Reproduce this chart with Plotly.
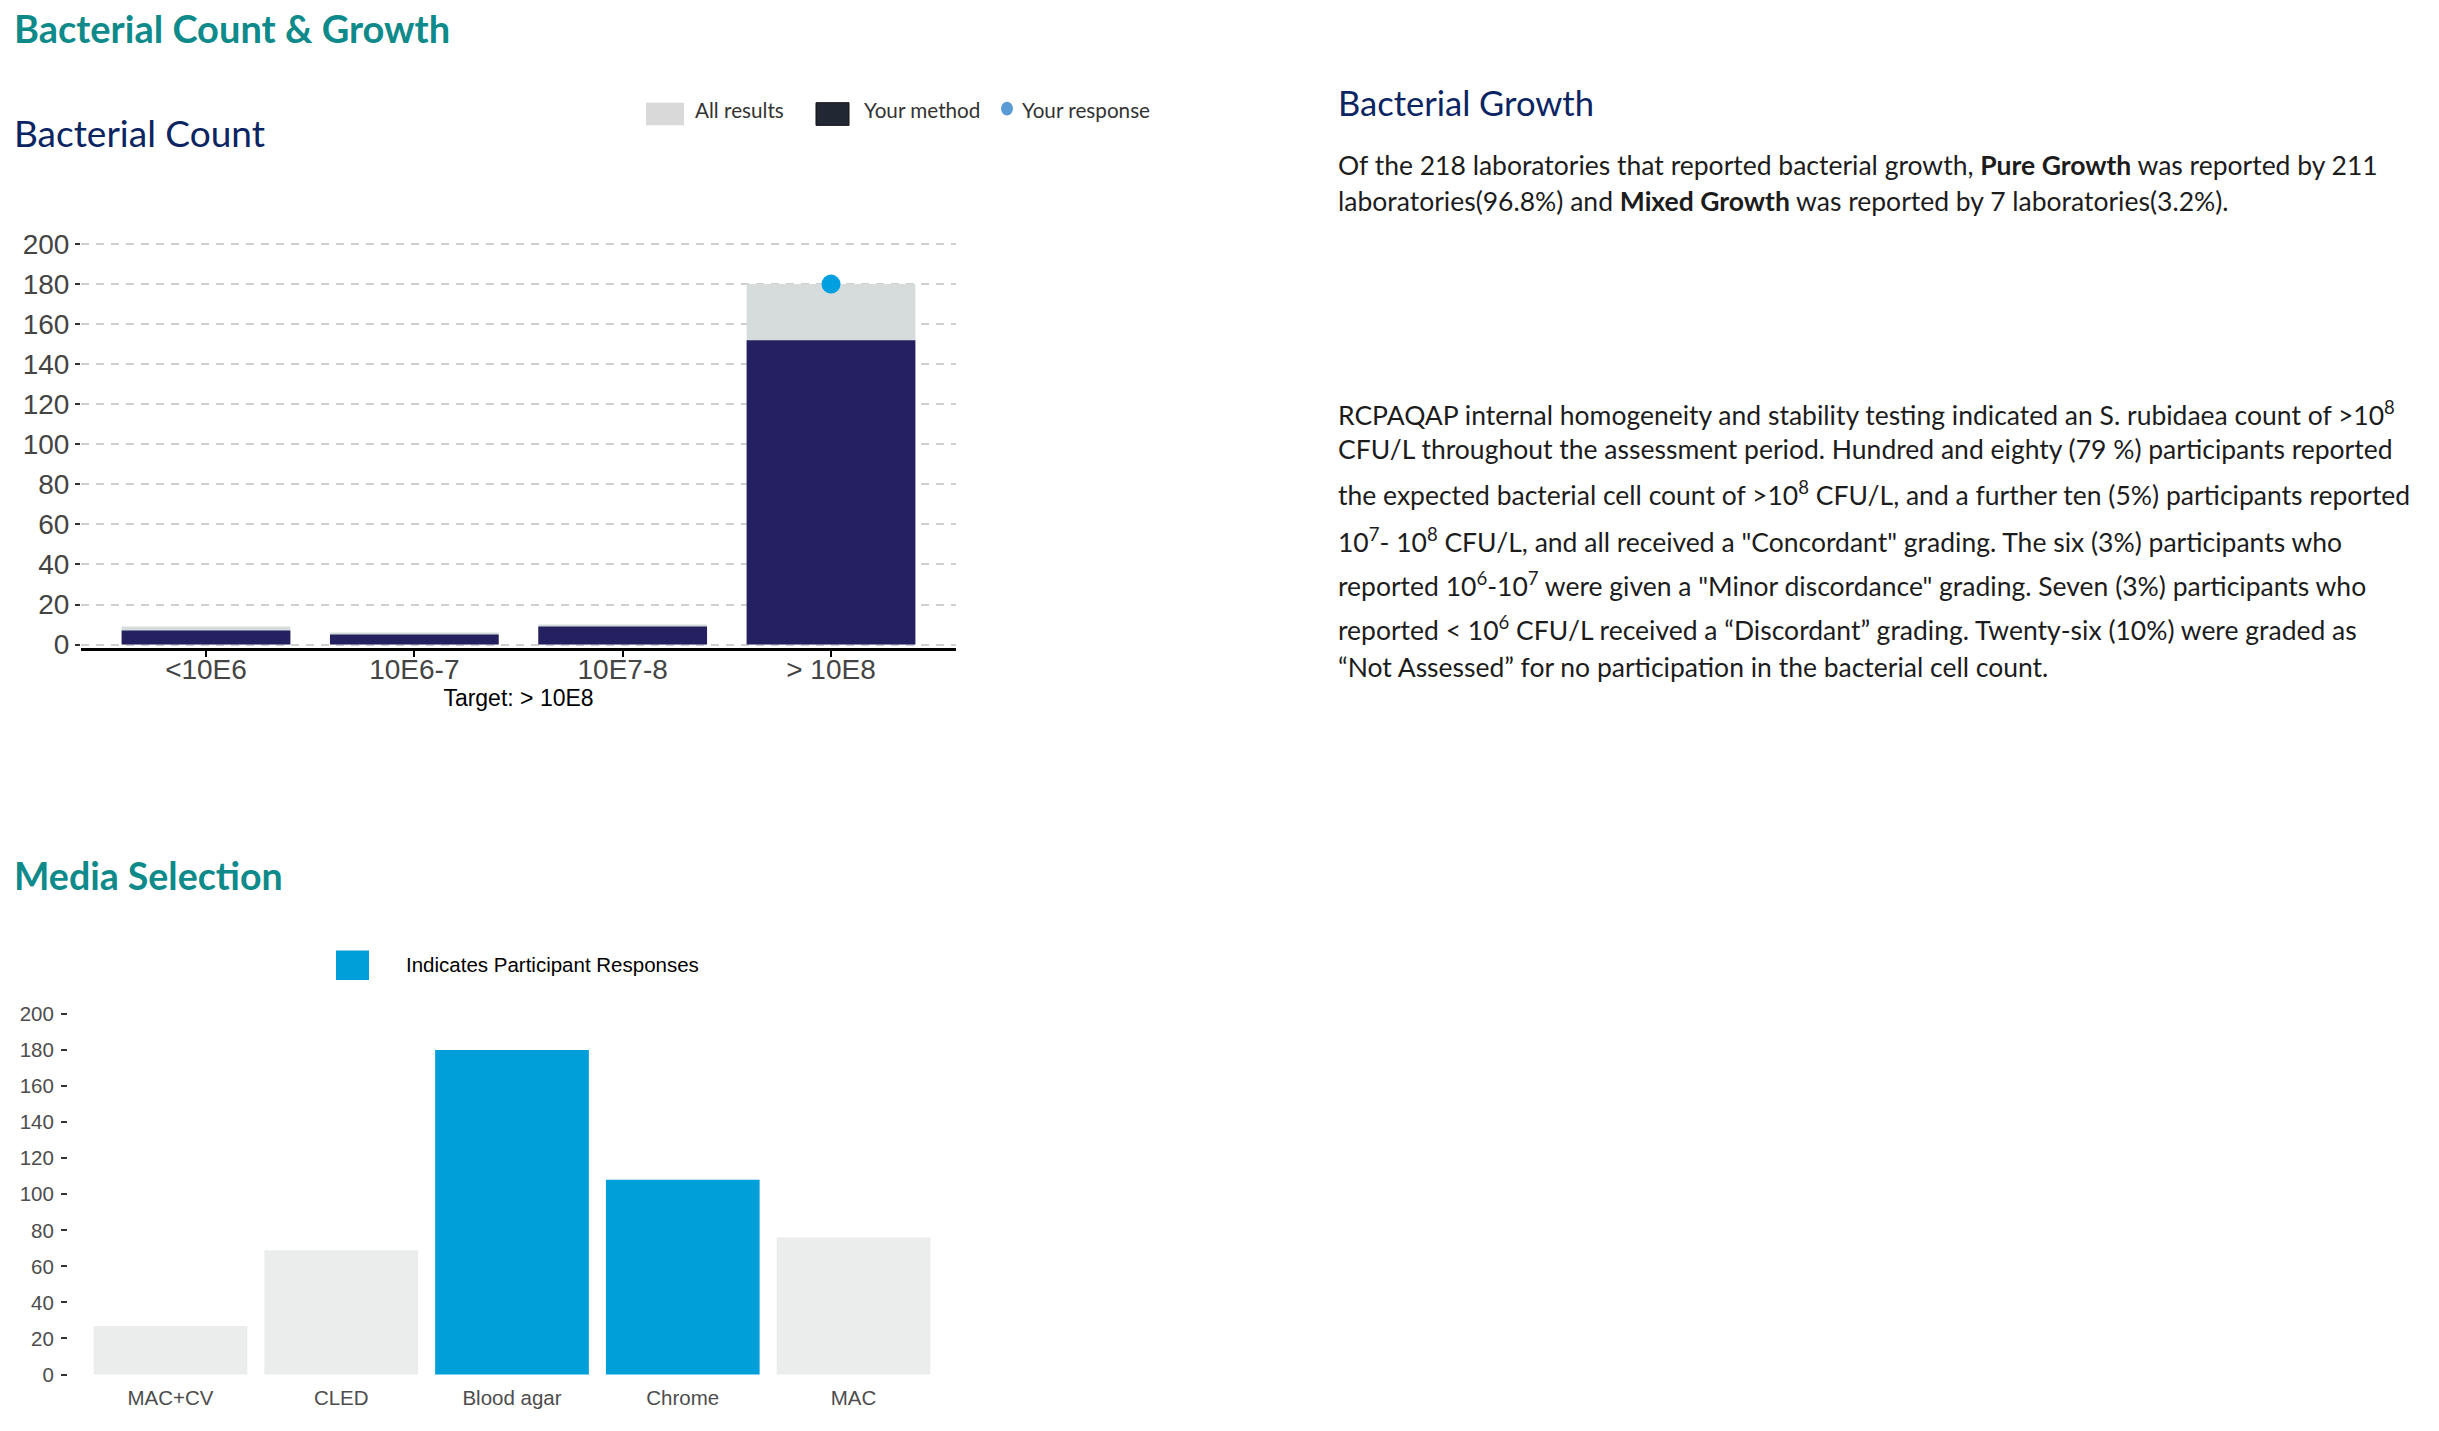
import plotly.graph_objects as go

W, H = 2439, 1431
M = 8          # default body margin of the html page
FW, FH = W - 2 * M, H - 2 * M

# ---------------- data ----------------
count_categories = ["<10E6", "10E6-7", "10E7-8", "> 10E8"]
all_results = [9, 6, 10, 180]
your_method = [7, 5, 9, 152]
your_response_category = "> 10E8"

media_categories = ["MAC+CV", "CLED", "Blood agar", "Chrome", "MAC"]
media_counts = [27, 69, 180, 108, 76]
media_selected = [False, False, True, True, False]

y_ticks = list(range(0, 201, 20))

# ---------------- helpers (screen pixel -> paper) ----------------
def px(x):
    return (x - M) / FW

def py(y):
    return 1 - (y - M) / FH

TEAL = "#0e8a8b"
NAVY = "#0b2462"
BLUE = "#009fda"
LIGHT = "#d6dcdb"
DARK = "#252060"
MEDIA_GREY = "#ebecec"

fig = go.Figure()

# Bacterial count chart
fig.add_trace(go.Bar(x=count_categories, y=all_results, name="All results",
                     marker=dict(color=LIGHT, line=dict(width=0)), width=0.81,
                     xaxis="x", yaxis="y", showlegend=False))
fig.add_trace(go.Bar(x=count_categories, y=your_method, name="Your method",
                     marker=dict(color=DARK, line=dict(width=0)), width=0.81,
                     xaxis="x", yaxis="y", showlegend=False))
resp_idx = count_categories.index(your_response_category)
fig.add_trace(go.Scatter(x=[your_response_category], y=[all_results[resp_idx]],
                         mode="markers", name="Your response",
                         marker=dict(color="#00a0e0", size=19),
                         xaxis="x", yaxis="y", showlegend=False))

# Media selection chart
fig.add_trace(go.Bar(x=media_categories, y=media_counts, name="Media",
                     marker=dict(color=[BLUE if s else MEDIA_GREY for s in media_selected],
                                 line=dict(width=0)),
                     width=0.9, xaxis="x2", yaxis="y2", showlegend=False))

axis_font1 = dict(family="Liberation Sans, Arial", size=28, color="#444444")
axis_font2 = dict(family="Liberation Sans, Arial", size=20.5, color="#4d4d4d")

# chart 1 vertical mapping: 0 -> 645 px, 200 -> 238.5 px
c1_zero, c1_unit = 645, (645 - 238.5) / 200
c1_lo, c1_hi = -1.75, 203
# chart 2 vertical mapping: 0 -> 1386 px, 200 -> 1020 px
c2_zero, c2_unit = 1386, (1386 - 1020) / 200
c2_lo, c2_hi = -1.5, 205

fig.update_layout(
    width=FW, height=FH,
    margin=dict(l=0, r=0, t=0, b=0),
    paper_bgcolor="white", plot_bgcolor="white",
    barmode="overlay",
    showlegend=False,
    xaxis=dict(domain=[px(81), px(956)], type="category",
               categoryorder="array", categoryarray=count_categories,
               range=[-0.6, 3.6], showgrid=False, zeroline=False,
               showline=True, linecolor="black", linewidth=2.5,
               ticks="outside", ticklen=6, tickwidth=1.5, tickcolor="black",
               tickfont=axis_font1, ticklabelstandoff=-11,
               title=dict(text="Target: > 10E8", standoff=2,
                          font=dict(family="Liberation Sans, Arial", size=23, color="black")),
               fixedrange=True),
    yaxis=dict(domain=[py(c1_zero - c1_lo * c1_unit), py(c1_zero - c1_hi * c1_unit)],
               range=[c1_lo, c1_hi],
               tickvals=y_ticks, showgrid=True, gridcolor="#cfcfcf",
               gridwidth=1.5, griddash="8px,7px", zeroline=False,
               showline=False, ticks="outside", ticklen=5, tickwidth=1.5,
               tickcolor="#333333", tickfont=axis_font1, ticklabelstandoff=0,
               fixedrange=True),
    xaxis2=dict(domain=[px(68), px(956)], type="category",
                categoryorder="array", categoryarray=media_categories,
                range=[-0.6, 4.6], showgrid=False, zeroline=False,
                showline=False, ticks="", tickfont=axis_font2,
                ticklabelstandoff=6, anchor="y2", fixedrange=True),
    yaxis2=dict(domain=[py(c2_zero - c2_lo * c2_unit), py(c2_zero - c2_hi * c2_unit)],
                range=[c2_lo, c2_hi],
                tickvals=y_ticks, showgrid=False, zeroline=False,
                showline=False, ticks="outside", ticklen=6, tickwidth=1.5,
                tickcolor="#333333", tickfont=axis_font2, ticklabelstandoff=3,
                anchor="x2", fixedrange=True),
)

shapes = []
annotations = []

LATO_SHIFT = 9   # Lato annotations render lower than their anchor

def text(x, y, s, size, color, family="Lato", bold=False, shift=None):
    if shift is None:
        shift = LATO_SHIFT if family == "Lato" else 0
    annotations.append(dict(
        x=px(x), y=py(y - shift), xref="paper", yref="paper",
        xanchor="left", yanchor="middle", showarrow=False,
        text=("<b>%s</b>" % s) if bold else s,
        font=dict(family=family, size=size, color=color), align="left"))

# Headings
text(12, 28, "Bacterial Count & Growth", 38, TEAL, bold=True)
text(12, 134, "Bacterial Count", 37, NAVY)
text(1336, 104, "Bacterial Growth", 34.5, NAVY)
text(12, 888, "Media Selection", 37.5, TEAL, bold=True)

# Legend: bacterial count
shapes.append(dict(type="rect", xref="paper", yref="paper",
                   x0=px(646), x1=px(684), y0=py(118), y1=py(95),
                   fillcolor="#d9d9d9", line=dict(width=0)))
shapes.append(dict(type="rect", xref="paper", yref="paper",
                   x0=px(816), x1=px(849), y0=py(118), y1=py(95),
                   fillcolor="#222833", line=dict(color="#111111", width=1)))
shapes.append(dict(type="circle", xref="paper", yref="paper",
                   x0=px(1001), x1=px(1013), y0=py(108), y1=py(94),
                   fillcolor="#5b9bd5", line=dict(width=0)))
lf = "#333333"
text(693, 111, "All results", 20.7, lf)
text(862, 111, "Your method", 20.7, lf)
text(1020, 111, "Your response", 20.7, lf)

# Legend: media selection
shapes.append(dict(type="rect", xref="paper", yref="paper",
                   x0=px(336), x1=px(369), y0=py(985.5), y1=py(955.5),
                   fillcolor=BLUE, line=dict(width=0)))
text(404, 970, "Indicates Participant Responses", 20.5, "black",
     family="Liberation Sans, Arial")

# Paragraphs
TXT = "#1c1c1c"
PS = 26.5
para1 = [
    (167, "Of the 218 laboratories that reported bacterial growth, <b>Pure Growth</b> was reported by 211"),
    (204, "laboratories(96.8%) and <b>Mixed Growth</b> was reported by 7 laboratories(3.2%)."),
]
para2 = [
    (421, "RCPAQAP internal homogeneity and stability testing indicated an S. rubidaea count of >10<sup>8</sup>"),
    (456, "CFU/L throughout the assessment period. Hundred and eighty (79 %) participants reported"),
    (503, "the expected bacterial cell count of >10<sup>8</sup> CFU/L, and a further ten (5%) participants reported"),
    (550, "10<sup>7</sup>- 10<sup>8</sup> CFU/L, and all received a \"Concordant\" grading. The six (3%) participants who"),
    (595, "reported 10<sup>6</sup>-10<sup>7</sup> were given a \"Minor discordance\" grading. Seven (3%) participants who"),
    (640, "reported &lt; 10<sup>6</sup> CFU/L received a \u201cDiscordant\u201d grading. Twenty-six (10%) were graded as"),
    (677, "\u201cNot Assessed\u201d for no participation in the bacterial cell count."),
]
for y, s in para1 + para2:
    extra = 2 if "<sup>" in s else 0
    text(1336, y, s, PS, TXT, shift=LATO_SHIFT + extra)

fig.update_layout(shapes=shapes, annotations=annotations)

fig.write_html("out.html")
